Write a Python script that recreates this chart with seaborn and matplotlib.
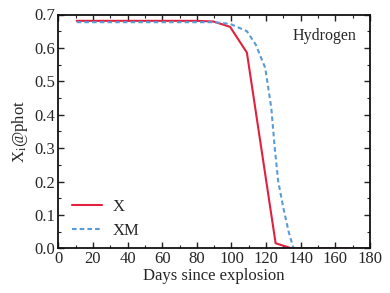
import matplotlib
matplotlib.use("Agg")
import matplotlib.pyplot as plt
import seaborn as sns
import pandas as pd
from matplotlib.ticker import MultipleLocator

days_x = [10.6, 20, 30, 40, 50, 60, 70, 80, 89.6, 99.2, 108.9, 125.5, 134.7, 150, 180]
vals_x = [0.681, 0.681, 0.681, 0.681, 0.681, 0.681, 0.681, 0.681, 0.679, 0.663, 0.586, 0.015, 0.0, 0.0, 0.0]

days_xm = [10.6, 20, 30, 40, 50, 60, 70, 80, 89.6, 99.2, 108.9, 114, 119.5, 123, 125, 127, 130, 133, 135.8, 150, 180]
vals_xm = [0.677, 0.677, 0.677, 0.677, 0.677, 0.677, 0.677, 0.677, 0.677, 0.672, 0.650, 0.61, 0.54, 0.42, 0.30, 0.20, 0.12, 0.05, 0.0, 0.0, 0.0]

sns.set_theme(style="ticks")
plt.rcParams['font.family'] = ['Liberation Serif', 'DejaVu Serif']
plt.rcParams['mathtext.fontset'] = 'stix'

df = pd.concat([
    pd.DataFrame({"day": days_x, "val": vals_x, "model": "X"}),
    pd.DataFrame({"day": days_xm, "val": vals_xm, "model": "XM"}),
])

fig = plt.figure(figsize=(3.9, 2.93), dpi=100)
ax = fig.add_axes([58.3/390, 1 - 248.3/293, (370-58.3)/390, (248.3-14.5)/293])

sns.lineplot(data=df, x="day", y="val", hue="model", style="model",
             palette={"X": "#e0213f", "XM": "#5b9bd5"},
             dashes={"X": "", "XM": (2.2, 1.5)}, linewidth=1.5,
             sort=False, estimator=None, ax=ax)

ax.set_xlim(0, 180)
ax.set_ylim(0, 0.7)
ax.xaxis.set_major_locator(MultipleLocator(20))
ax.xaxis.set_minor_locator(MultipleLocator(10))
ax.yaxis.set_major_locator(MultipleLocator(0.1))
ax.yaxis.set_minor_locator(MultipleLocator(0.05))
ax.yaxis.set_major_formatter(matplotlib.ticker.FormatStrFormatter('%.1f'))
ax.tick_params(which='both', direction='in', top=True, right=True, labelsize=12, pad=2, color='#222222')
ax.tick_params(which='major', length=4, width=1)
ax.tick_params(which='minor', length=2, width=0.8)
for s in ax.spines.values():
    s.set_linewidth(1.3)
    s.set_color('#111111')

ax.set_xlabel("Days since explosion", fontsize=12, labelpad=1)
ax.set_ylabel(r"X$_{\mathrm{i}}$@phot", fontsize=12, labelpad=3)
ax.text(0.958, 0.907, "Hydrogen", transform=ax.transAxes, ha='right', va='center', fontsize=11.5)

leg = ax.legend(loc='lower left', bbox_to_anchor=(0.023, 0.012), borderaxespad=0, frameon=False, fontsize=12,
                handlelength=1.8, handletextpad=0.65, labelspacing=0.45, title=None)

fig.savefig("out.png", dpi=100)
